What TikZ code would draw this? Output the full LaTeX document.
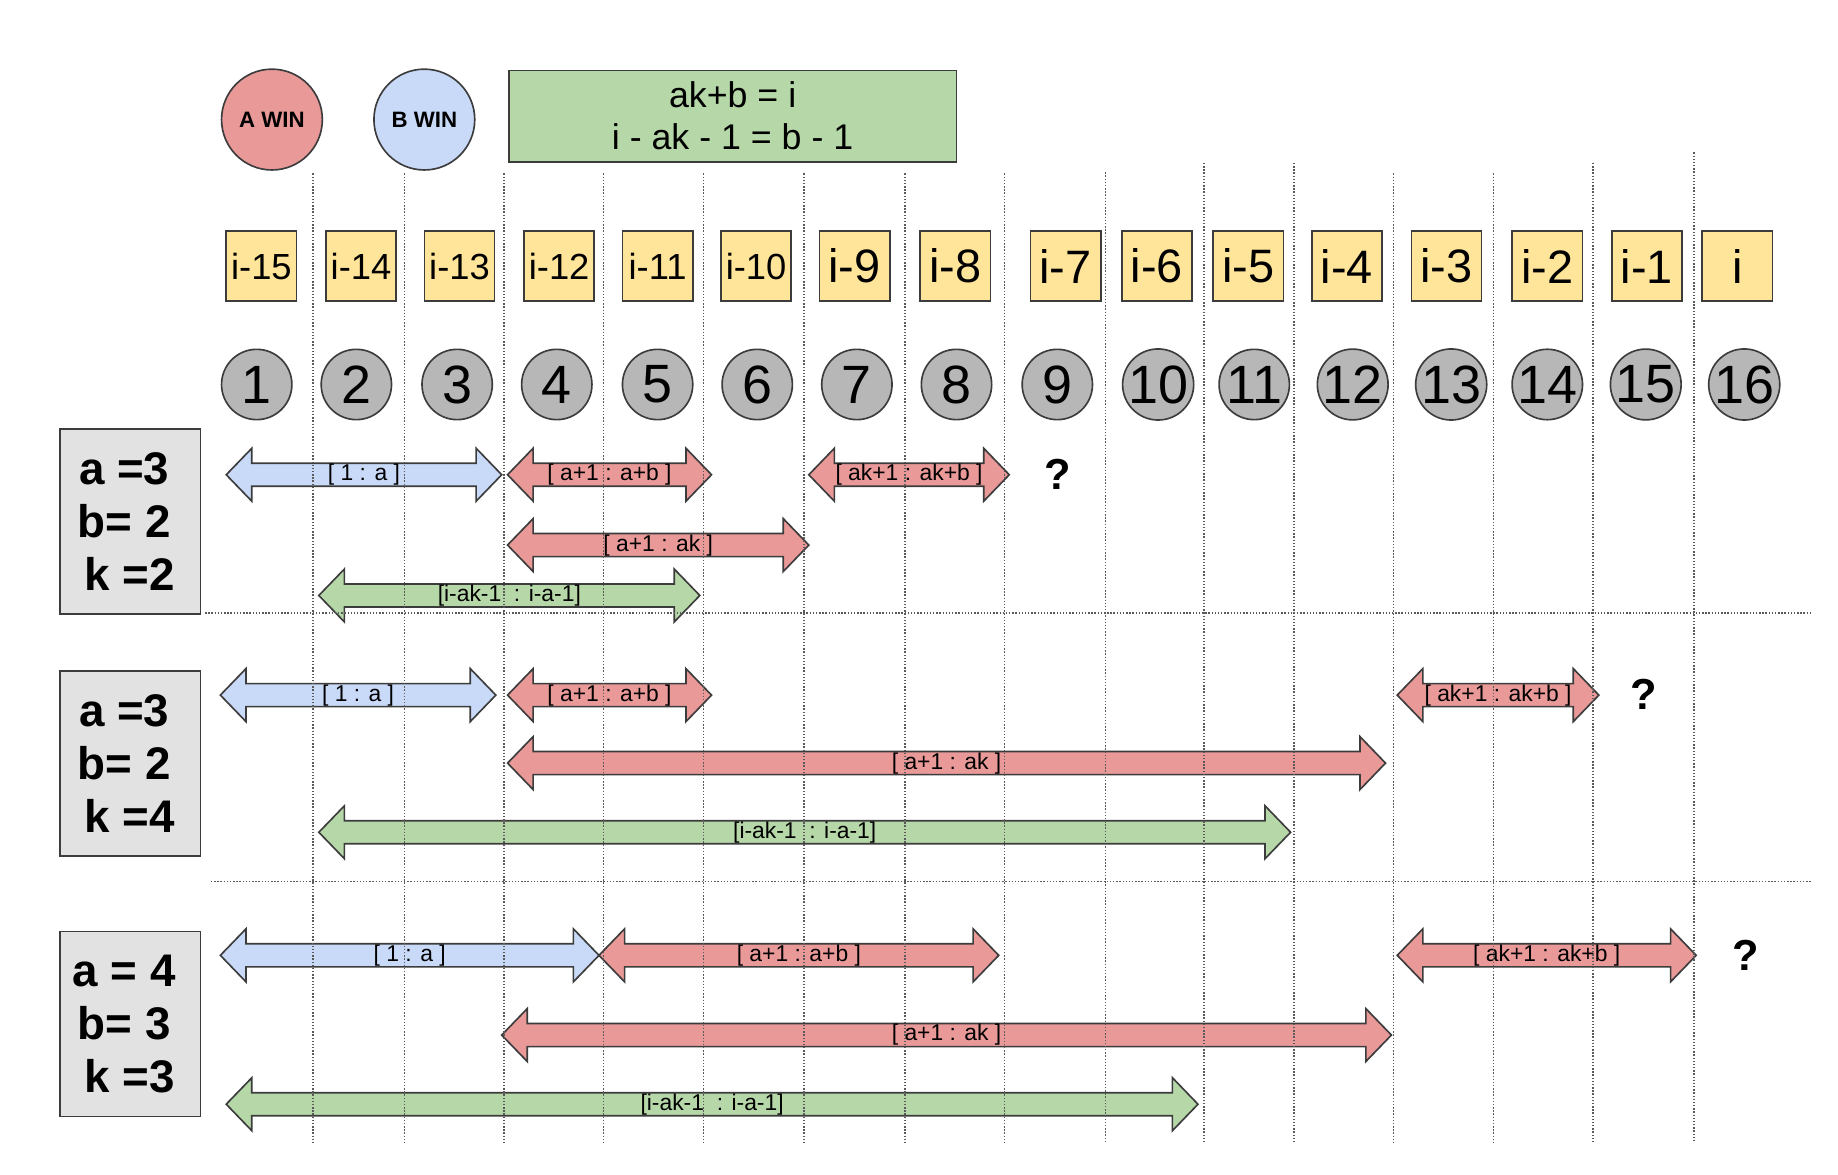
\documentclass[tikz,border=0pt]{standalone}
\usepackage{fontspec}
\setmainfont{Liberation Sans}
\usetikzlibrary{shapes.arrows}
\definecolor{WinRed}{HTML}{EA9999}
\definecolor{WinBlue}{HTML}{C9DAF8}
\definecolor{RangeGreen}{HTML}{B6D7A8}
\definecolor{IdxYellow}{HTML}{FFE599}
\definecolor{SlotGray}{HTML}{B7B7B7}
\definecolor{CaseGray}{HTML}{E2E2E2}
\definecolor{EdgeGray}{HTML}{3C3C3C}
\definecolor{GridGray}{HTML}{5A5A5A}
\newcommand{\caseline}[1]{#1\kern10pt}
\tikzset{
  winball/.style={circle,draw=EdgeGray,line width=1.4pt,minimum size=86pt,inner sep=0pt,
    font=\fontsize{19pt}{19pt}\selectfont\bfseries},
  formula/.style={draw=EdgeGray,fill=RangeGreen,line width=1.4pt,minimum width=382pt,
    minimum height=78pt,align=center,font=\fontsize{30.5pt}{36pt}\selectfont},
  idx/.style={draw=EdgeGray,fill=IdxYellow,line width=1.4pt,minimum size=60pt,inner sep=0pt},
  slot/.style={circle,draw=EdgeGray,fill=SlotGray,line width=1.4pt,minimum size=60pt,inner sep=0pt,
    font=\fontsize{46pt}{46pt}\selectfont},
  casebox/.style={draw=EdgeGray,fill=CaseGray,line width=1.4pt,minimum width=120pt,
    minimum height=158pt,align=center,font=\fontsize{39pt}{45pt}\selectfont\bfseries},
  rangearrow/.style={double arrow,draw=EdgeGray,line width=1.4pt,double arrow head extend=12.75pt,
    double arrow tip angle=92,inner xsep=0pt,inner ysep=0pt,text height=14.2pt,text depth=4.1pt,
    font=\fontsize{19.5pt}{19.5pt}\selectfont,minimum height=#1},
  arange/.style={rangearrow=#1,fill=WinRed},
  brange/.style={rangearrow=#1,fill=WinBlue},
  grange/.style={rangearrow=#1,fill=RangeGreen},
  ask/.style={font=\fontsize{37pt}{37pt}\selectfont\bfseries},
  gridline/.style={GridGray,line width=1.2pt,dash pattern=on 1.2pt off 1.5pt}
}
\begin{document}
\begin{tikzpicture}[x=1pt,y=-1pt]
  \useasboundingbox[fill=white] (0,0) rectangle (1568,1002);
  \node[winball,fill=WinRed] (awin) at (232,102) {A WIN};
  \node[winball,fill=WinBlue] (bwin) at (362,102) {B WIN};
  \node[formula] (rule) at (625,99) {ak+b = i\\i - ak - 1 = b - 1};
  \foreach \x/\t/\s [count=\n] in {223/i-15/31pt,308/i-14/31pt,392/i-13/31pt,477/i-12/31pt,
      561/i-11/31pt,645/i-10/31pt,729/i-9/40pt,815/i-8/40pt,909/i-7/40pt,987/i-6/40pt,
      1065/i-5/40pt,1149/i-4/40pt,1234/i-3/40pt,1320/i-2/40pt,1405/i-1/40pt,1482/i/40pt}
    \node[idx,font=\fontsize{\s}{\s}\selectfont] (y\n) at (\x,227) {\t};
  \foreach \x [count=\n] in {219,304,390,475,561,646,731,816,902,988,1070,1154,1238,1320,1404,1488}
    \node[slot] (s\n) at (\x,328) {\n};
  \node[casebox] (case1) at (111,445)
    {\caseline{a =3}\\\caseline{b= 2}\\\caseline{\hspace*{0.25em}k =2}};
  \node[casebox] (case2) at (111,651.5)
    {\caseline{a =3}\\\caseline{b= 2}\\\caseline{\hspace*{0.25em}k =4}};
  \node[casebox] (case3) at (111,873.5)
    {\caseline{a = 4}\\\caseline{b= 3}\\\caseline{\hspace*{0.25em}k =3}};
  \node[brange=235pt] (one1) at (310.5,405) {[ 1 : a ]};
  \node[arange=174pt] (ab1) at (520,405) {[ a+1 : a+b ]};
  \node[arange=171pt] (akb1) at (775.5,405) {[ ak+1 : ak+b ]};
  \node[ask] (q1) at (902,405) {?};
  \node[arange=257pt] (ak1) at (561.5,465) {[ a+1 : ak ]};
  \node[grange=325pt] (rest1) at (434.5,508) {[i-ak-1~ : i-a-1]};
  \node[brange=235pt] (one2) at (305.5,593) {[ 1 : a ]};
  \node[arange=174pt] (ab2) at (520,593) {[ a+1 : a+b ]};
  \node[arange=172pt] (akb2) at (1278,593) {[ ak+1 : ak+b ]};
  \node[ask] (q2) at (1402,592) {?};
  \node[arange=749pt] (ak2) at (807.5,651) {[ a+1 : ak ]};
  \node[grange=829pt] (rest2) at (686.5,710) {[i-ak-1~ : i-a-1]};
  \node[brange=323pt] (one3) at (349.5,815) {[ 1 : a ]};
  \node[arange=341pt] (ab3) at (681.5,815) {[ a+1 : a+b ]};
  \node[arange=255pt] (akb3) at (1319.5,815) {[ ak+1 : ak+b ]};
  \node[ask] (q3) at (1489,815) {?};
  \node[arange=759pt] (ak3) at (807.5,883) {[ a+1 : ak ]};
  \node[grange=829pt] (rest3) at (607.5,942) {[i-ak-1~ : i-a-1]};
  \foreach \x/\t in {267/148,345/148,430/148,515/148,600/148,686/148,772/148,857/148,
      943/147,1027/139,1104/139,1189/148,1274/148,1359/139,1445/130}
    \draw[gridline] (\x,\t) -- (\x,975);
  \draw[gridline] (175,523) -- (1545,523);
  \draw[gridline] (180,752) -- (1545,752);
\end{tikzpicture}
\end{document}
